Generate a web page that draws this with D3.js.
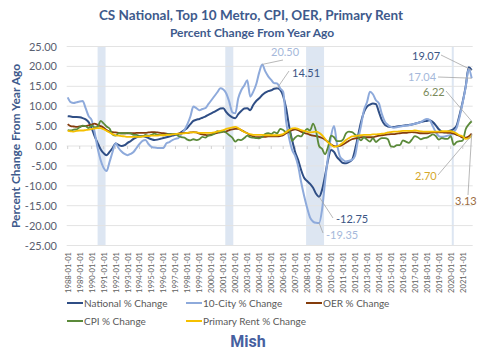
<!DOCTYPE html>
<html><head><meta charset="utf-8">
<script src="https://cdn.jsdelivr.net/npm/d3@7"></script>
<style>
html,body{margin:0;padding:0;background:#fff;}
svg{display:block;font-family:Lato,"Open Sans",sans-serif;}
</style></head>
<body><svg id="chart" width="500" height="355"></svg>
<script>
// ---- data (quarterly: Jan, Apr, Jul, Oct; 1988-01 .. 2021-10) ----
const startYear = 1988, endYear = 2021;
const national = [
 7.5,7.4,7.3,7.3, 7.2,7.0,6.7,6.0, 4.5,2.5,0.8,-0.8, -1.8,-2.3,-1.5,-0.5,
 0.6,0.3,0.0,0.2, 0.8,1.2,1.8,2.2, 2.4,2.5,2.3,2.0, 1.7,1.5,1.6,1.8,
 2.0,2.2,2.4,2.6, 2.8,3.0,3.5,4.0, 4.6,5.5,6.3,6.6, 6.8,7.1,7.4,7.8,
 8.2,8.6,9.0,9.4, 9.5,8.5,7.7,7.2, 7.0,8.0,8.8,9.4, 9.5,9.0,10.3,11.3,
 12.0,12.8,13.4,13.8, 14.0,14.4,14.51,14.1, 12.5,9.5,5.0,1.5, -1.5,-3.5,-6.0,-8.0,
 -8.8,-9.5,-10.5,-12.0, -12.75,-11.0,-7.5,-3.5, -1.0,-1.5,-2.8,-3.6, -4.3,-4.35,-4.0,-3.5,
 -1.0,2.5,6.0,8.5, 9.9,10.4,10.7,10.5, 8.5,6.5,5.3,4.9, 4.8,4.8,4.9,5.0,
 5.1,5.2,5.3,5.4, 5.6,5.8,6.0,6.2, 6.3,6.5,6.0,5.2, 4.2,3.6,3.4,3.6,
 3.9,4.3,5.2,8.0, 11.2,15.0,19.8,19.07
];
const tenCity = [
 12.2,11.0,10.8,11.0, 11.2,11.3,9.5,7.5, 6.5,3.5,-0.5,-3.5, -5.5,-6.3,-4.0,-1.5,
 0.7,-0.5,-1.4,-2.0, -2.3,-2.0,-1.5,-0.5, 0.5,1.3,1.5,0.5, -0.2,-0.4,-0.5,-0.5,
 -0.5,0.7,1.0,1.5, 1.8,2.0,3.0,4.0, 5.5,7.4,9.9,9.5, 9.0,9.3,9.5,10.5,
 11.5,12.5,13.5,14.5, 14.2,13.2,11.1,8.5, 8.2,12.0,14.0,15.2, 16.5,12.4,13.6,15.5,
 18.5,20.5,18.8,17.5, 16.6,15.8,15.7,14.5, 13.6,6.1,2.0,-1.0, -2.5,-5.0,-9.0,-12.5,
 -15.5,-18.0,-19.0,-19.3, -19.35,-16.0,-9.0,-2.7, 2.5,5.0,0.5,-2.7, -3.5,-3.9,-3.7,-3.5,
 -2.5,1.5,5.0,9.0, 11.0,13.6,13.0,11.5, 10.7,8.0,6.1,5.3, 4.8,4.6,4.7,4.9,
 5.0,5.1,5.2,5.4, 5.6,5.8,6.0,6.5, 6.8,6.5,5.0,3.5, 2.5,2.3,2.4,2.6,
 2.8,3.5,4.6,7.5, 11.0,14.8,19.4,17.04
];
const oer = [
 5.5,5.0,4.9,4.8, 4.9,5.0,5.0,5.2, 5.4,5.6,5.3,5.0, 4.6,4.0,3.6,3.5,
 3.4,3.3,3.2,3.2, 3.2,3.2,3.2,3.3, 3.3,3.3,3.3,3.4, 3.5,3.5,3.4,3.3,
 3.2,3.1,3.0,3.0, 3.0,3.1,3.2,3.3, 3.3,3.4,3.5,3.4, 3.1,2.9,2.8,2.7,
 2.9,3.1,3.3,3.5, 3.6,3.7,4.0,4.2, 4.3,4.3,4.0,3.6, 3.2,2.7,2.4,2.2,
 2.2,2.3,2.3,2.4, 2.4,2.4,2.4,2.5, 2.7,3.2,3.6,4.0, 4.2,4.0,3.6,3.3,
 3.1,2.8,2.6,2.5, 2.3,2.0,1.6,1.0, 0.4,0.0,-0.1,0.0, 0.4,0.8,1.3,1.7,
 1.9,2.0,2.2,2.2, 2.2,2.2,2.2,2.4, 2.6,2.7,2.8,2.9, 3.0,3.0,3.1,3.2,
 3.3,3.3,3.4,3.5, 3.4,3.3,3.2,3.2, 3.2,3.3,3.4,3.4, 3.4,3.4,3.4,3.3,
 3.3,3.1,2.8,2.5, 2.1,2.1,2.4,3.13
];
const cpi = [
 4.0,3.9,4.1,4.2, 4.7,5.1,5.0,4.5, 5.2,4.7,4.8,6.3, 5.7,4.9,4.4,2.9,
 2.6,3.2,3.2,3.2, 3.3,3.2,2.8,2.8, 2.5,2.4,2.8,2.6, 2.8,3.1,2.8,2.8,
 2.7,2.9,3.0,3.0, 3.0,2.5,2.2,2.1, 1.6,1.4,1.7,1.5, 1.7,2.3,2.1,2.6,
 2.7,3.1,3.7,3.4, 3.7,3.3,2.7,2.1, 1.1,1.6,1.5,2.0, 2.6,2.2,2.1,2.0,
 1.9,2.3,3.0,3.2, 3.0,3.5,3.2,4.3, 4.0,3.5,4.1,1.3, 2.1,2.6,2.4,3.5,
 4.3,3.9,5.6,3.7, 0.0,-0.7,-2.1,-0.2, 2.6,2.2,1.2,1.2, 1.6,3.2,3.6,3.5,
 2.9,2.3,1.4,2.2, 1.6,1.1,2.0,1.0, 1.6,2.0,2.0,1.7, -0.1,-0.2,0.2,0.2,
 1.4,1.1,0.8,1.6, 2.5,2.2,1.7,2.0, 2.1,2.5,2.9,2.5, 1.6,2.0,1.8,1.8,
 2.5,0.3,1.0,1.2, 1.4,4.2,5.4,6.22
];
const rent = [
 3.8,3.7,3.6,3.8, 3.9,3.9,4.0,4.1, 4.3,4.4,4.5,4.5, 4.2,3.8,3.4,3.0,
 2.7,2.6,2.5,2.4, 2.3,2.3,2.3,2.3, 2.3,2.4,2.5,2.5, 2.6,2.6,2.6,2.7,
 2.7,2.8,2.8,2.9, 3.0,3.1,3.1,3.2, 3.3,3.4,3.4,3.4, 3.3,3.3,3.3,3.3,
 3.3,3.4,3.6,3.8, 4.0,4.3,4.5,4.7, 4.8,4.5,4.0,3.5, 3.2,3.0,2.8,2.8,
 2.8,2.8,2.7,2.7, 2.7,2.7,2.7,2.8, 3.0,3.5,4.0,4.4, 4.5,4.3,4.0,3.8,
 3.6,3.4,3.5,3.6, 3.3,2.7,1.8,0.9, 0.3,-0.2,-0.1,0.3, 0.8,1.5,2.0,2.4,
 2.5,2.6,2.7,2.8, 2.8,2.8,2.9,2.9, 3.0,3.1,3.2,3.4, 3.5,3.6,3.6,3.7,
 3.8,3.8,3.8,3.8, 3.9,3.8,3.7,3.6, 3.6,3.6,3.6,3.6, 3.6,3.7,3.7,3.7,
 3.7,3.5,3.1,2.7, 2.4,1.8,1.9,2.70
];
const seriesNames = ["National % Change","10-City % Change","OER % Change","CPI % Change","Primary Rent % Change"];
const seriesColors = ["#2f4e85","#8eaadb","#843c0c","#5b8a3a","#f5c000"];
const yTicks = [25,20,15,10,5,0,-5,-10,-15,-20,-25];
const recessions = [["1990-07-01","1991-03-01"],["2001-03-01","2001-11-01"],["2007-12-01","2009-06-01"],["2020-02-01","2020-04-01"]];
// annotations: [series index, year, month (0-based), label]
const labels = [
  [1, 2004, 3, "20.50"], [0, 2005, 6, "14.51"], [0, 2021, 9, "19.07"], [1, 2021, 9, "17.04"],
  [3, 2021, 9, "6.22"], [4, 2021, 9, "2.70"], [2, 2021, 9, "3.13"],
  [0, 2009, 0, "-12.75"], [1, 2009, 0, "-19.35"]
];

// ---- build ----
const dates = [];
for (let yr = startYear; yr <= endYear; yr++) for (let m = 0; m < 12; m += 3) dates.push(new Date(yr, m, 1));
const allSeries = [national, tenCity, oer, cpi, rent];

const svg = d3.select("#chart");
const L = 67.7, R = 471.7, T = 46.5, B = 245.5;
const x = d3.scaleTime().domain([new Date(1988,0,1), new Date(2021,9,1)]).range([L, R]);
const y = d3.scaleLinear().domain([-25,25]).range([B, T]);

// recession bands
svg.append("g").selectAll("rect").data(recessions).join("rect")
  .attr("x", d => x(new Date(d[0])))
  .attr("width", d => Math.max(2, x(new Date(d[1])) - x(new Date(d[0]))))
  .attr("y", T).attr("height", B - T)
  .attr("fill", "#dde6f2");

// gridlines
svg.append("g").selectAll("line").data(yTicks).join("line")
  .attr("x1", L - 1).attr("x2", R + 1)
  .attr("y1", d => y(d)).attr("y2", d => y(d))
  .attr("stroke", "#e3e3e3").attr("stroke-width", 1);

// y axis labels
const yAxis = svg.append("g").attr("transform", "translate(57,0)")
  .call(d3.axisLeft(y).tickValues(yTicks).tickFormat(d => d.toFixed(2)).tickSize(0).tickPadding(0));
yAxis.select(".domain").remove();
yAxis.selectAll("text").attr("fill", "#5a6070").style("font-size", "11px").style("font-family", "Lato, sans-serif");

// zero line ticks
const yearDates = d3.timeYear.range(new Date(1988,0,1), new Date(2022,0,1));
svg.append("g").selectAll("line").data(yearDates).join("line")
  .attr("x1", d => x(d)).attr("x2", d => x(d))
  .attr("y1", y(0)).attr("y2", y(0) + 3)
  .attr("stroke", "#d0d0d0");

// x axis labels
const xAxis = svg.append("g").attr("transform", "translate(0,250)")
  .call(d3.axisBottom(x).tickValues(yearDates).tickFormat(d3.timeFormat("%Y-%m-%d")).tickSize(0));
xAxis.select(".domain").remove();
xAxis.selectAll("text")
  .attr("transform", "rotate(-90)")
  .attr("x", -2).attr("y", 0).attr("dy", "0.32em")
  .style("text-anchor", "end")
  .style("font-size", "7.6px").style("font-family", "Lato, sans-serif")
  .attr("fill", "#606060");

// lines
const line = d3.line().x((d, i) => x(dates[i])).y(d => y(d)).curve(d3.curveMonotoneX);
svg.append("g").selectAll("path").data(allSeries).join("path")
  .attr("d", d => line(d))
  .attr("fill", "none")
  .attr("stroke", (d, i) => seriesColors[i])
  .attr("stroke-width", (d, i) => i < 2 ? 2 : 1.8)
  .attr("stroke-linejoin", "round");

// annotations
const labelPos = [
  {tx:271, ty:56, lx1:283, ly1:60, col:"#a5b8da"},
  {tx:292, ty:77, lx1:289, ly1:71, col:"#3b5584"},
  {tx:412, ty:60, lx1:441, ly1:55, col:"#3b5584"},
  {tx:408, ty:81, lx1:438, ly1:77, col:"#a5b8da"},
  {tx:423, ty:96, lx1:446, ly1:91, col:"#7a8a5a"},
  {tx:415, ty:180, lx1:438, ly1:175, col:"#d5a82c"},
  {tx:455, ty:205, lx1:468, ly1:195, col:"#9b6b3e"},
  {tx:336, ty:223, lx1:333, ly1:218, col:"#3b5584"},
  {tx:326, ty:239, lx1:323, ly1:233, col:"#a5b8da"}
];
const annG = svg.append("g");
labels.forEach((lab, k) => {
  const s = allSeries[lab[0]];
  const idx = (lab[1] - startYear) * 4 + lab[2] / 3;
  const p = labelPos[k];
  const px = x(dates[idx]), py = y(s[idx]);
  annG.append("line").attr("x1", p.lx1).attr("y1", p.ly1).attr("x2", px).attr("y2", py)
    .attr("stroke", "#a6a6a6").attr("stroke-width", 0.8);
  annG.append("text").attr("x", p.tx).attr("y", p.ty).text(lab[3])
    .attr("fill", p.col).style("font-size", "11px");
});

// titles
svg.append("text").attr("x", 251).attr("y", 20).attr("text-anchor", "middle")
  .attr("fill", "#3e5a8c").style("font-size", "13.5px").style("font-weight", "bold")
  .text("CS National, Top 10 Metro, CPI, OER, Primary Rent");
svg.append("text").attr("x", 252).attr("y", 37).attr("text-anchor", "middle")
  .attr("fill", "#3e5a8c").style("font-size", "12px").style("font-weight", "bold")
  .text("Percent Change From Year Ago");
svg.append("text").attr("transform", "translate(20,146) rotate(-90)").attr("text-anchor", "middle")
  .attr("fill", "#3e5a8c").style("font-size", "12px").style("font-weight", "bold")
  .text("Percent Change From Year Ago");

// legend
const legPos = [[67,303],[186,303],[306,303],[67,321],[186,321]];
const leg = svg.append("g").selectAll("g").data(seriesNames).join("g")
  .attr("transform", (d, i) => `translate(${legPos[i][0]},${legPos[i][1]})`);
leg.append("line").attr("x1", 0).attr("x2", 16).attr("y1", 0).attr("y2", 0)
  .attr("stroke", (d, i) => seriesColors[i]).attr("stroke-width", 2);
leg.append("text").attr("x", 17).attr("y", 0).attr("dy", "0.35em").text(d => d)
  .attr("fill", "#595959").style("font-size", "10px");

svg.append("text").attr("x", 248).attr("y", 347).attr("text-anchor", "middle")
  .attr("fill", "#4660a0").style("font-size", "16px").style("font-weight", "bold")
  .style("font-family", "Roboto, Lato, sans-serif")
  .text("Mish");
</script></body></html>
